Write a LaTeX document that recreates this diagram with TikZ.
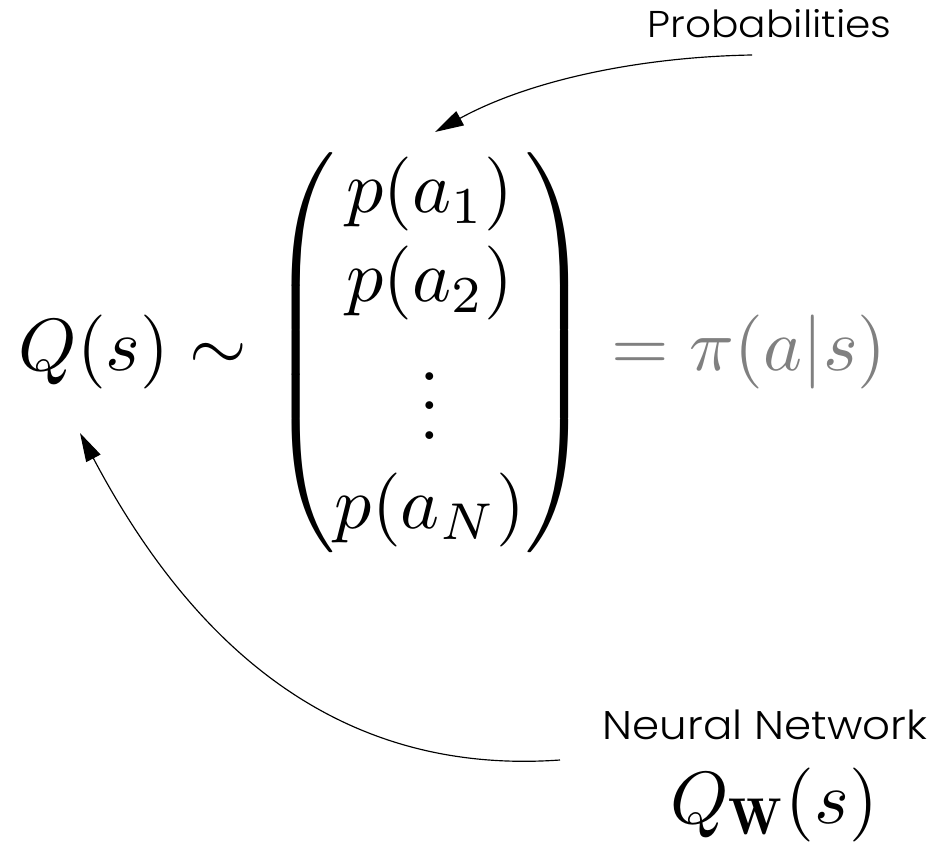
\documentclass[tikz,border=0pt]{standalone}
\usepackage{amsmath}
\usepackage{graphicx}
\usepackage{fontspec}
\newfontfamily\labfont{Poppins Light}[FakeStretch=1.09]
\usetikzlibrary{arrows.meta}
\definecolor{rhsgray}{RGB}{128,128,128}
\newcommand{\bigmath}[1]{\scalebox{2.22}{$#1$}}
\begin{document}
\begin{tikzpicture}[x=0.3pt,y=-0.3pt,
  mathnode/.style={inner sep=0pt,font=\fontsize{10}{12}\selectfont},
  labnode/.style={inner sep=0pt,font=\labfont\fontsize{11.2}{13}\selectfont},
  link/.style={line width=0.35pt,-{Triangle[length=8.6pt,width=4.8pt]}}]
\useasboundingbox (0,0) rectangle (938,846);
\node[mathnode,anchor=base west] (lhs) at (18,371) {\bigmath{Q(s)\sim}};
\node[mathnode,anchor=base] (mat) at (430,371)
  {\bigmath{\begin{pmatrix} p(a_1)\\ p(a_2)\\ \vdots\\ p(a_N)\end{pmatrix}}};
\node[mathnode,anchor=base west,text=rhsgray] (rhs) at (611,371) {\bigmath{=\pi(a|s)}};
\node[labnode,anchor=base west] (prob) at (647,38) {Probabilities};
\node[labnode,anchor=base west,font=\labfont\fontsize{12}{14}\selectfont] (nn) at (602,739) {Neural Network};
\node[mathnode,anchor=base] (qw) at (774,823) {\bigmath{Q_{\mathbf{W}}(s)}};
\coordinate (ptail) at (752,55);
\coordinate (ptip) at (435,132);
\coordinate (ntail) at (560,760);
\coordinate (ntip) at (80,433);
\draw[link] (ptail) .. controls (640,57) and (530,80) .. (ptip);
\draw[link] (ntail) .. controls (350,775) and (200,660) .. (ntip);
\end{tikzpicture}
\end{document}
